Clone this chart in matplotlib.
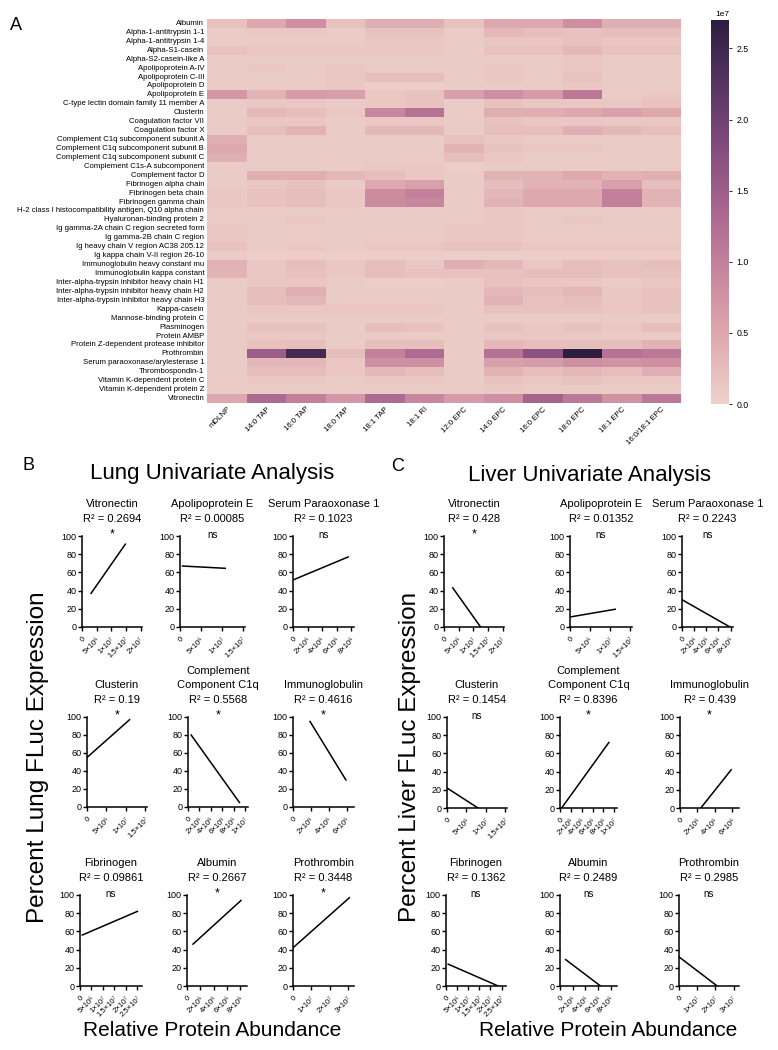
import matplotlib
matplotlib.use('Agg')
import matplotlib.pyplot as plt
import numpy as np
import seaborn as sns

plt.rcParams['font.family'] = ['Liberation Sans', 'DejaVu Sans']

# ---- heatmap data (relative abundance, units of 1e6) ----
proteins = [
    "Albumin", "Alpha-1-antitrypsin 1-1", "Alpha-1-antitrypsin 1-4", "Alpha-S1-casein",
    "Alpha-S2-casein-like A", "Apolipoprotein A-IV", "Apolipoprotein C-III", "Apolipoprotein D",
    "Apolipoprotein E", "C-type lectin domain family 11 member A", "Clusterin",
    "Coagulation factor VII", "Coagulation factor X", "Complement C1q subcomponent subunit A",
    "Complement C1q subcomponent subunit B", "Complement C1q subcomponent subunit C",
    "Complement C1s-A subcomponent", "Complement factor D", "Fibrinogen alpha chain",
    "Fibrinogen beta chain", "Fibrinogen gamma chain",
    "H-2 class I histocompatibility antigen, Q10 alpha chain", "Hyaluronan-binding protein 2",
    "Ig gamma-2A chain C region secreted form", "Ig gamma-2B chain C region",
    "Ig heavy chain V region AC38 205.12", "Ig kappa chain V-II region 26-10",
    "Immunoglobulin heavy constant mu", "Immunoglobulin kappa constant",
    "Inter-alpha-trypsin inhibitor heavy chain H1", "Inter-alpha-trypsin inhibitor heavy chain H2",
    "Inter-alpha-trypsin inhibitor heavy chain H3", "Kappa-casein", "Mannose-binding protein C",
    "Plasminogen", "Protein AMBP", "Protein Z-dependent protease inhibitor", "Prothrombin",
    "Serum paraoxonase/arylesterase 1", "Thrombospondin-1", "Vitamin K-dependent protein C",
    "Vitamin K-dependent protein Z", "Vitronectin",
]
formulations = ["mDLNP", "14:0 TAP", "16:0 TAP", "18:0 TAP", "18:1 TAP", "18:1 RI",
                "12:0 EPC", "14:0 EPC", "16:0 EPC", "18:0 EPC", "18:1 EPC", "16:0/18:1 EPC"]
abundance = np.array([
    [1.8, 4.8, 8.0, 1.8, 4.2, 4.2, 1.8, 4.8, 4.8, 8.0, 4.2, 4.2],
    [0.8, 1.3, 1.3, 0.8, 1.8, 1.8, 0.8, 3.0, 2.4, 1.8, 2.4, 2.4],
    [0.8, 0.8, 0.8, 0.8, 1.3, 1.3, 0.8, 1.3, 1.3, 1.8, 1.3, 1.3],
    [1.8, 1.3, 1.3, 1.3, 1.3, 1.3, 0.8, 1.8, 1.8, 3.0, 1.8, 1.8],
    [0.8, 0.8, 0.8, 0.8, 0.8, 0.8, 0.8, 0.8, 0.8, 1.3, 0.8, 0.8],
    [0.8, 1.3, 0.8, 1.3, 0.8, 0.8, 0.8, 1.3, 0.8, 1.3, 0.8, 0.8],
    [0.8, 0.8, 0.8, 1.3, 2.4, 2.4, 0.8, 1.3, 0.8, 1.8, 0.8, 0.8],
    [0.8, 0.8, 0.8, 1.3, 0.5, 0.5, 0.8, 0.8, 0.8, 1.3, 0.8, 0.8],
    [7.0, 3.6, 6.5, 6.0, 1.3, 1.8, 6.0, 8.0, 6.5, 11.0, 0.8, 1.3],
    [0.8, 1.3, 1.3, 0.8, 1.3, 1.8, 0.8, 1.8, 1.3, 1.3, 1.3, 1.8],
    [0.8, 3.0, 2.4, 1.3, 9.0, 12.0, 0.8, 4.2, 4.2, 4.8, 6.0, 4.8],
    [0.8, 1.3, 1.3, 0.8, 1.3, 1.3, 0.8, 1.8, 1.3, 1.3, 1.3, 1.3],
    [0.8, 2.4, 3.6, 0.8, 3.0, 3.0, 0.8, 2.4, 2.4, 4.2, 3.0, 2.4],
    [4.2, 0.8, 0.8, 0.8, 0.8, 0.8, 1.8, 1.3, 0.8, 0.8, 0.8, 0.8],
    [4.8, 0.8, 0.8, 0.8, 0.8, 0.8, 3.6, 1.8, 1.3, 1.3, 0.8, 0.8],
    [4.2, 0.8, 0.8, 0.8, 0.8, 0.8, 2.4, 1.3, 0.8, 0.8, 0.8, 0.8],
    [0.8, 0.8, 0.8, 0.8, 1.3, 1.3, 0.5, 0.8, 0.8, 0.8, 0.8, 0.8],
    [0.8, 4.2, 4.2, 3.0, 2.4, 1.3, 0.8, 3.6, 3.6, 4.8, 3.6, 4.2],
    [0.8, 1.3, 1.8, 0.8, 4.8, 6.0, 0.8, 2.4, 3.6, 3.6, 6.0, 2.4],
    [1.3, 1.8, 2.4, 1.3, 8.5, 10.0, 0.8, 3.0, 4.8, 4.8, 10.0, 3.6],
    [1.3, 1.8, 2.4, 1.3, 8.5, 9.0, 0.8, 3.6, 4.8, 4.8, 10.0, 3.6],
    [0.8, 0.8, 0.8, 0.8, 0.8, 0.8, 0.8, 1.3, 0.8, 0.8, 0.8, 0.8],
    [0.8, 0.8, 1.3, 0.8, 0.8, 0.8, 0.8, 1.3, 0.8, 1.3, 0.8, 0.8],
    [1.3, 0.8, 0.8, 0.8, 0.8, 0.8, 1.3, 1.3, 0.8, 0.8, 0.8, 0.8],
    [1.3, 0.8, 0.8, 0.8, 0.8, 0.8, 1.3, 1.3, 0.8, 0.8, 0.8, 0.8],
    [1.8, 0.8, 1.3, 0.8, 1.3, 1.3, 1.8, 1.8, 1.3, 1.3, 1.3, 1.3],
    [0.8, 0.5, 0.5, 0.5, 0.5, 0.5, 0.5, 0.5, 0.5, 0.5, 0.5, 0.5],
    [3.6, 1.3, 2.4, 1.3, 2.4, 1.3, 4.2, 3.0, 1.3, 2.4, 1.8, 2.4],
    [3.6, 1.3, 1.8, 1.3, 2.4, 1.8, 1.8, 1.8, 2.4, 2.4, 1.8, 1.8],
    [0.8, 1.3, 1.3, 0.8, 0.5, 0.5, 0.8, 1.8, 1.3, 1.3, 0.8, 1.3],
    [0.8, 2.4, 4.2, 0.8, 0.8, 0.8, 0.8, 3.0, 2.4, 3.0, 1.3, 1.8],
    [0.8, 2.4, 3.0, 0.8, 0.8, 0.8, 0.8, 3.6, 1.8, 2.4, 1.3, 1.8],
    [0.8, 1.3, 1.3, 1.3, 1.3, 1.3, 0.8, 1.8, 1.8, 1.8, 1.3, 1.8],
    [0.8, 0.8, 0.8, 0.8, 0.8, 0.8, 0.8, 0.8, 0.8, 0.8, 0.8, 0.8],
    [0.8, 1.8, 1.8, 0.8, 2.4, 1.8, 0.8, 1.8, 1.3, 1.8, 1.3, 2.4],
    [0.8, 1.3, 1.3, 0.8, 0.8, 0.8, 0.8, 1.3, 1.3, 1.3, 0.8, 0.8],
    [0.8, 1.8, 2.4, 0.8, 2.4, 2.4, 0.8, 3.0, 2.4, 2.4, 2.4, 3.6],
    [0.8, 15.0, 24.5, 2.4, 10.0, 13.0, 0.8, 12.0, 17.0, 27.0, 12.0, 11.0],
    [0.8, 3.0, 3.0, 1.3, 8.0, 8.0, 0.8, 6.0, 6.5, 8.0, 7.5, 8.0],
    [0.8, 2.4, 2.4, 1.3, 3.0, 2.4, 0.8, 3.6, 2.4, 3.0, 2.4, 4.2],
    [0.8, 1.3, 1.3, 0.8, 1.3, 1.3, 0.8, 1.8, 1.3, 1.8, 1.3, 1.3],
    [0.8, 0.8, 0.8, 0.8, 0.8, 0.8, 0.8, 1.3, 0.8, 0.8, 0.8, 0.8],
    [5.0, 13.0, 10.0, 7.0, 13.0, 9.0, 6.5, 8.0, 14.0, 11.0, 7.5, 11.0],
]) * 1e6

# ---- univariate regression panels ----
panel_titles = ["Vitronectin", "Apolipoprotein E", "Serum Paraoxonase 1", "Clusterin",
                "Complement\nComponent C1q", "Immunoglobulin", "Fibrinogen", "Albumin",
                "Prothrombin"]
panel_xticks = [
    [0, 5e6, 1e7, 1.5e7, 2e7], [0, 5e6, 1e7, 1.5e7], [0, 2e6, 4e6, 6e6, 8e6],
    [0, 5e6, 1e7, 1.5e7], [0, 2e6, 4e6, 6e6, 8e6, 1e7], [0, 2e6, 4e6, 6e6],
    [0, 5e6, 1e7, 1.5e7, 2e7, 2.5e7], [0, 2e6, 4e6, 6e6, 8e6], [0, 1e7, 2e7, 3e7],
]
panel_xmax = [2.05e7, 1.55e7, 8.4e6, 1.55e7, 1.05e7, 6.8e6, 2.7e7, 9e6, 3.3e7]

lung_r2 = ["0.2694", "0.00085", "0.1023", "0.19", "0.5568", "0.4616", "0.09861", "0.2667", "0.3448"]
lung_sig = ["*", "ns", "ns", "*", "*", "*", "ns", "*", "*"]
lung_x0 = [3.1e6, 0.6e6, 0.1e6, 0, 0.55e6, 1.9e6, 1e6, 0.9e6, 0]
lung_x1 = [1.48e7, 1.08e7, 7.6e6, 1.1e7, 9.0e6, 5.9e6, 2.5e7, 8.1e6, 3.05e7]
lung_y0 = [37, 67, 52, 55, 80, 95, 56, 46, 42]
lung_y1 = [91, 64.5, 77, 97, 5, 30, 82, 94, 97]

liver_r2 = ["0.428", "0.01352", "0.2243", "0.1454", "0.8396", "0.439", "0.1362", "0.2489", "0.2985"]
liver_sig = ["*", "ns", "ns", "ns", "*", "*", "ns", "ns", "ns"]
liver_x0 = [3e6, 0, 0, 0, 0.3e6, 2.4e6, 1e6, 0.9e6, 0]
liver_x1 = [1.25e7, 1.13e7, 7.9e6, 8.0e6, 9.0e6, 5.9e6, 2.35e7, 6.4e6, 2.1e7]
liver_y0 = [43, 11, 30, 22, 0, 0, 24, 29, 32]
liver_y1 = [0, 19.5, 0, 0, 72, 42, 0, 0, 0]

# pixel boxes (left, right, top, bottom) of each small panel
lung_boxes = [(82, 142, 536, 627), (180, 245, 536, 627), (293, 354, 536, 627),
              (87, 147, 717, 807), (188, 248, 717, 807), (293, 354, 717, 807),
              (80, 142, 895, 986), (187, 247, 895, 986), (293, 354, 895, 986)]
liver_boxes = [(444, 504, 536, 627), (570, 632, 536, 627), (682, 733, 536, 627),
               (447, 507, 717, 808), (560, 617, 717, 808), (680, 739, 717, 808),
               (446, 506, 895, 986), (560, 617, 895, 986), (679, 739, 895, 986)]

W, H = 778, 1050
SUP = str.maketrans("0123456789", "⁰¹²³⁴⁵⁶⁷⁸⁹")


def px_axes(fig, x0, x1, y0, y1):
    return fig.add_axes([x0 / W, 1 - y1 / H, (x1 - x0) / W, (y1 - y0) / H])


def sci_label(v):
    if v == 0:
        return "0"
    e = int(np.floor(np.log10(v)))
    m = f"{v / 10 ** e:g}"
    return f"{m}×10" + str(e).translate(SUP)


fig = plt.figure(figsize=(W / 100, H / 100), dpi=100)

# ---- panel A: heatmap ----
ax = px_axes(fig, 207, 681, 19, 403)
cax = px_axes(fig, 711, 729, 20, 404)
cmap = sns.cubehelix_palette(as_cmap=True)
sns.heatmap(abundance, ax=ax, cbar_ax=cax, cmap=cmap, vmin=0, vmax=2.7e7,
            xticklabels=formulations, yticklabels=proteins)
ax.tick_params(length=0, pad=2)
ax.set_yticklabels(proteins, fontsize=5.6, rotation=0)
ax.set_xticklabels(formulations, fontsize=5.6, rotation=45, ha='right',
                   rotation_mode='anchor')
cax.tick_params(labelsize=6.3, length=2, width=0.6)
cax.yaxis.get_offset_text().set_fontsize(6)
for s in cax.spines.values():
    s.set_visible(False)
fig.text(10 / W, 1 - 25 / H, "A", fontsize=13, va='center')


# ---- panels B and C ----
def draw_panel(box, i, r2, sig, x0, x1, y0, y1):
    a = px_axes(fig, *box)
    a.plot([x0, x1], [y0, y1], color='black', lw=1.1)
    a.set_xlim(0, panel_xmax[i])
    a.set_ylim(0, 100)
    a.set_yticks([0, 20, 40, 60, 80, 100])
    a.set_xticks(panel_xticks[i])
    a.set_xticklabels([sci_label(v) for v in panel_xticks[i]], rotation=45,
                      ha='right', rotation_mode='anchor', fontsize=5.5)
    a.tick_params(axis='y', labelsize=6.5, pad=1)
    a.tick_params(length=3, width=1, direction='out')
    for s in ['top', 'right']:
        a.spines[s].set_visible(False)
    for s in ['left', 'bottom']:
        a.spines[s].set_linewidth(1.1)
    a.set_title(f"{panel_titles[i]}\nR² = {r2}", fontsize=8, pad=10, linespacing=1.6)
    fs = 9 if sig == "*" else 7
    a.annotate(sig, xy=(0.5, 1), xycoords='axes fraction', xytext=(0, 1),
               textcoords='offset points', ha='center', va='center', fontsize=fs)


for i in range(9):
    draw_panel(lung_boxes[i], i, lung_r2[i], lung_sig[i], lung_x0[i], lung_x1[i],
               lung_y0[i], lung_y1[i])
    draw_panel(liver_boxes[i], i, liver_r2[i], liver_sig[i], liver_x0[i], liver_x1[i],
               liver_y0[i], liver_y1[i])

fig.text(28 / W, 1 - 465 / H, "B", fontsize=13, ha='center', va='center')
fig.text(398 / W, 1 - 467 / H, "C", fontsize=13, ha='center', va='center')
fig.text(212 / W, 1 - 473 / H, "Lung Univariate Analysis", fontsize=16, ha='center', va='center')
fig.text(590 / W, 1 - 475 / H, "Liver Univariate Analysis", fontsize=16, ha='center', va='center')
fig.text(38 / W, 1 - 757 / H, "Percent Lung FLuc Expression", fontsize=17.5, rotation=90,
         ha='center', va='center')
fig.text(410 / W, 1 - 757 / H, "Percent Liver FLuc Expression", fontsize=17.5, rotation=90,
         ha='center', va='center')
fig.text(212 / W, 1 - 1030 / H, "Relative Protein Abundance", fontsize=15, ha='center', va='center')
fig.text(608 / W, 1 - 1030 / H, "Relative Protein Abundance", fontsize=15, ha='center', va='center')

fig.savefig('out.png', dpi=100)
